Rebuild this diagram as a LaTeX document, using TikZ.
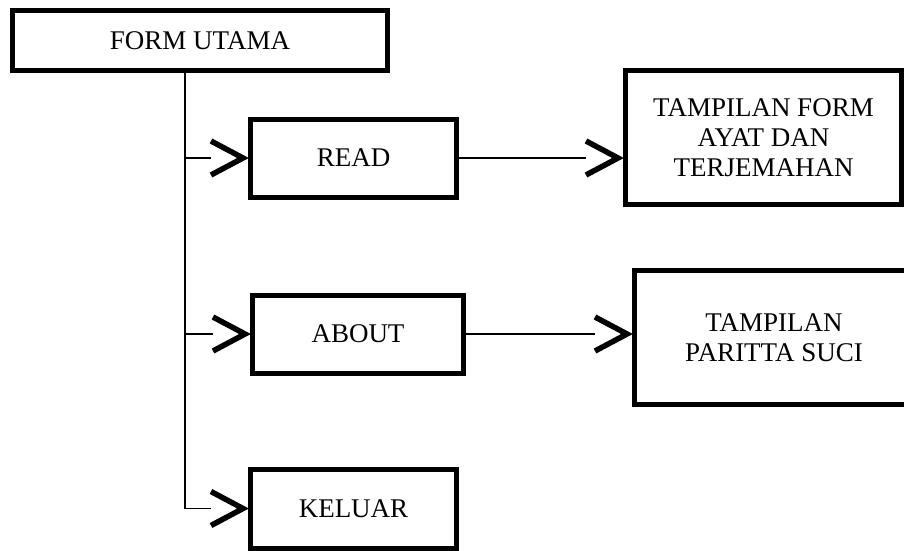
\documentclass[tikz,border=0pt]{standalone}
\usepackage{fontspec}
\setmainfont{Liberation Serif}
\usetikzlibrary{calc}
\begin{document}
\begin{tikzpicture}[x=1pt,y=-1pt,
  box/.style={draw, line width=5pt, align=center, inner sep=0pt,
    font=\fontsize{27}{30}\selectfont},
  link/.style={line width=1.7pt},
  chev/.style={line width=5.5pt, line join=miter, line cap=butt}]
\useasboundingbox (0,0) rectangle (904,550);
\clip (0,0) rectangle (904,550);
\fill[white] (0,0) rectangle (904,550);

\node[box, minimum width=375pt, minimum height=60pt] (fu) at (200,40.5) {FORM UTAMA};
\node[box, minimum width=206pt, minimum height=78pt] (read) at (353.5,158) {READ};
\node[box, minimum width=211pt, minimum height=78pt] (about) at (358,334) {ABOUT};
\node[box, minimum width=206pt, minimum height=79pt] (keluar) at (353.5,508.5) {KELUAR};
\node[box, minimum width=276pt, minimum height=134pt] (tf) at (763.5,137.5) {TAMPILAN FORM\\AYAT DAN\\TERJEMAHAN};
\node[box, minimum width=279pt, minimum height=134pt] (tp) at (774,337.5) {TAMPILAN\\PARITTA SUCI};

\coordinate (trunk) at (185,0);
\coordinate (tfin) at (tf.west |- read.east);
\coordinate (tpin) at (tp.west |- about.east);

% trunk and branches
\draw[link] (fu.south -| trunk) -- (keluar.west -| trunk) -- ($(keluar.west)+(-37,0)$);
\draw[link] (read.west -| trunk) -- ($(read.west)+(-37,0)$);
\draw[link] (about.west -| trunk) -- ($(about.west)+(-37,0)$);
\draw[link] (read.east) -- ($(tfin)+(-37,0)$);
\draw[link] (about.east) -- ($(tpin)+(-37,0)$);

% chevrons
\foreach \n in {read.west,about.west,keluar.west,tfin,tpin} {
  \draw[chev] ($(\n)+(-37,-17)$) -- ($(\n)+(-5,0)$) -- ($(\n)+(-37,17)$);
}
\end{tikzpicture}
\end{document}
